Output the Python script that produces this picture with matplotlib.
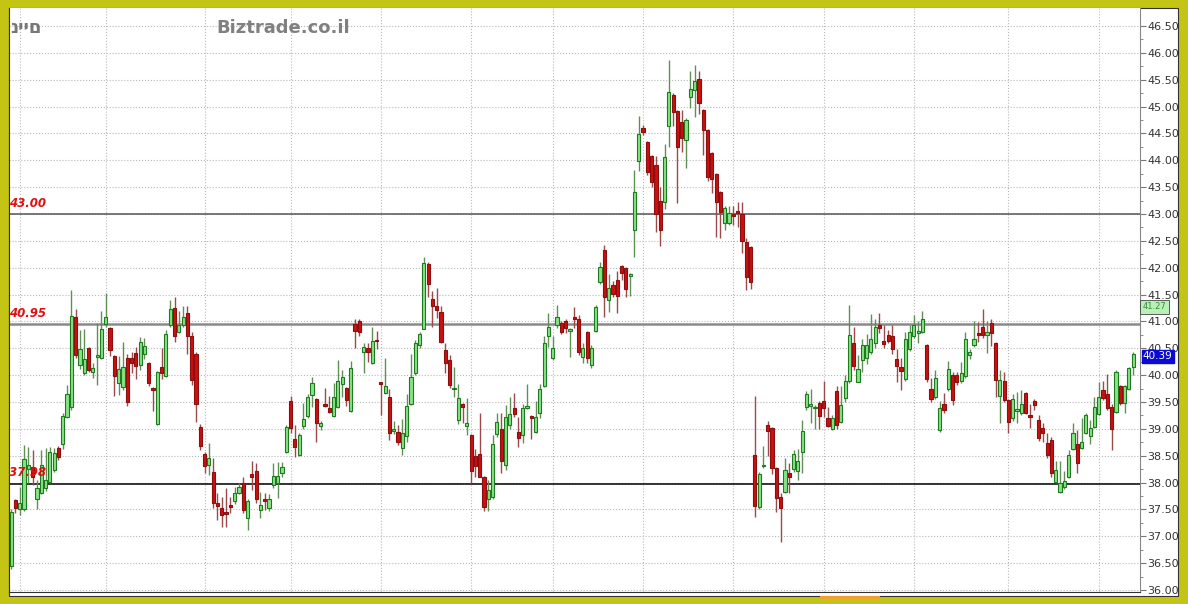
import numpy as np
import matplotlib
matplotlib.use('Agg')
import matplotlib.pyplot as plt
from matplotlib.patches import Rectangle

# daily candles (oldest first)
opens = [36.45, 37.67, 37.50, 37.50, 38.25, 38.29, 37.70, 37.81, 37.90, 38.02,
         38.23, 38.65, 38.72, 39.23, 39.40, 41.08, 40.19, 40.04, 40.50, 40.06,
         40.34, 40.32, 40.95, 40.88, 40.36, 39.85, 39.78, 40.32, 40.32, 40.42,
         40.19, 40.39, 40.23, 39.75, 39.09, 40.15, 39.98, 40.93, 41.25, 40.81,
         40.93, 41.15, 40.72, 40.39, 39.03, 38.53, 38.33, 38.20, 37.62, 37.52,
         37.44, 37.57, 37.66, 37.81, 37.99, 37.34, 38.16, 38.22, 37.49, 37.69,
         37.52, 37.95, 38.00, 38.18, 38.57, 39.52, 38.81, 38.51, 39.05, 39.24,
         39.63, 39.55, 39.05, 39.45, 39.39, 39.24, 39.41, 39.83, 39.76, 39.34,
         40.95, 41.00, 40.44, 40.50, 40.22, 40.65, 39.86, 39.67, 39.59, 38.96,
         38.95, 38.64, 38.86, 39.46, 40.04, 40.56, 40.86, 42.07, 41.42, 41.28,
         41.18, 40.47, 40.28, 39.74, 39.16, 39.46, 39.06, 38.88, 38.49, 38.53,
         38.11, 37.69, 37.73, 38.90, 38.99, 38.33, 39.07, 39.39, 38.95, 38.88,
         39.39, 39.23, 38.95, 39.30, 39.80, 40.72, 40.32, 40.93, 40.97, 41.00,
         40.83, 41.09, 41.04, 40.34, 40.81, 40.19, 40.83, 41.74, 42.33, 41.39,
         41.68, 41.77, 42.03, 41.99, 41.85, 42.71, 43.99, 44.61, 44.34, 44.08,
         43.91, 43.25, 43.23, 44.63, 45.22, 44.91, 44.72, 44.38, 45.18, 45.31,
         45.51, 44.93, 44.56, 44.13, 43.74, 43.41, 42.83, 42.84, 43.00, 43.06,
         43.00, 42.47, 42.39, 38.51, 37.54, 38.30, 39.07, 39.02, 38.28, 37.74,
         37.83, 38.18, 38.26, 38.22, 38.56, 39.41, 39.42, 39.38, 39.49, 39.52,
         39.21, 38.99, 39.71, 39.13, 39.57, 39.90, 40.59, 39.88, 40.28, 40.31,
         40.44, 40.59, 40.94, 40.64, 40.75, 40.73, 40.30, 40.15, 39.92, 40.48,
         40.73, 40.78, 40.81, 40.56, 39.75, 39.59, 38.98, 39.47, 39.74, 40.00,
         40.00, 39.90, 39.98, 40.38, 40.56, 40.78, 40.89, 40.75, 40.98, 40.60,
         39.61, 39.90, 39.54, 39.20, 39.34, 39.30, 39.66, 39.26, 39.52, 39.17,
         39.02, 38.73, 38.80, 38.02, 37.83, 37.92, 38.10, 38.62, 38.72, 38.64,
         38.92, 38.87, 39.04, 39.28, 39.72, 39.65, 39.40, 39.32, 39.80, 39.49,
         39.74, 40.16]
highs = [37.50, 37.70, 37.92, 38.70, 38.67, 38.60, 38.05, 38.60, 38.65, 38.67,
         38.65, 38.68, 39.30, 39.82, 41.58, 41.23, 40.84, 40.85, 40.52, 40.23,
         40.98, 41.20, 41.53, 40.90, 40.38, 40.36, 40.62, 40.40, 40.44, 40.53,
         40.71, 40.70, 40.25, 39.78, 40.08, 40.50, 40.84, 41.39, 41.45, 41.20,
         41.28, 41.28, 40.81, 40.44, 39.09, 38.57, 38.73, 38.46, 37.80, 37.74,
         37.90, 37.74, 37.92, 38.00, 38.10, 37.70, 38.41, 38.36, 37.83, 37.80,
         37.78, 38.37, 38.39, 38.38, 39.08, 39.61, 39.07, 38.93, 39.49, 39.65,
         39.97, 39.57, 39.15, 39.76, 39.62, 39.85, 40.28, 40.10, 39.78, 40.26,
         41.04, 41.05, 40.59, 40.59, 40.89, 40.83, 39.88, 40.31, 39.74, 39.15,
         39.07, 39.18, 39.64, 40.39, 40.65, 40.80, 42.20, 42.10, 41.57, 41.62,
         41.28, 40.59, 40.37, 40.16, 39.83, 39.48, 39.57, 38.90, 38.62, 39.29,
         38.12, 38.04, 38.88, 39.29, 39.29, 39.44, 39.60, 39.67, 39.22, 39.46,
         39.83, 39.25, 39.52, 39.83, 40.73, 41.15, 40.73, 41.30, 41.00, 41.04,
         40.87, 41.27, 41.12, 40.59, 40.82, 40.56, 41.30, 42.10, 42.42, 41.88,
         41.75, 41.93, 42.05, 42.02, 41.90, 43.82, 44.82, 44.66, 44.36, 44.10,
         44.08, 43.51, 44.30, 45.87, 45.25, 44.93, 44.94, 44.78, 45.67, 45.77,
         45.67, 44.95, 44.58, 44.15, 43.76, 43.43, 43.15, 43.15, 43.15, 43.23,
         43.23, 42.56, 42.40, 39.61, 38.20, 38.69, 39.15, 39.03, 38.29, 37.80,
         38.45, 38.36, 38.60, 38.62, 39.17, 39.71, 39.75, 39.45, 39.52, 39.90,
         39.40, 39.25, 39.80, 39.80, 40.00, 41.30, 40.90, 40.37, 40.68, 40.77,
         41.14, 41.05, 41.15, 40.94, 40.84, 40.94, 40.48, 40.31, 40.80, 40.94,
         41.12, 41.00, 41.20, 40.58, 39.94, 40.10, 39.52, 39.66, 40.26, 40.06,
         40.05, 40.25, 40.80, 40.48, 41.00, 40.99, 41.24, 41.00, 41.05, 40.62,
         40.10, 40.05, 39.56, 39.65, 39.69, 39.72, 39.68, 39.47, 39.56, 39.26,
         39.10, 38.92, 38.84, 38.40, 38.41, 38.22, 38.60, 39.10, 38.98, 39.21,
         39.30, 39.17, 39.60, 39.88, 39.90, 40.02, 39.47, 40.10, 39.82, 39.82,
         40.15, 40.44]
lows = [36.40, 37.44, 37.40, 37.48, 38.00, 37.95, 37.50, 37.78, 37.85, 38.00,
        38.20, 38.42, 38.62, 39.20, 39.35, 40.32, 40.12, 40.00, 40.05, 39.95,
        39.82, 40.30, 40.90, 40.36, 39.61, 39.63, 39.72, 39.43, 40.04, 39.93,
        40.10, 40.30, 39.80, 39.34, 39.07, 39.93, 39.96, 40.90, 40.62, 40.78,
        40.90, 40.39, 39.82, 39.13, 38.60, 38.18, 38.14, 37.52, 37.30, 37.18,
        37.18, 37.43, 37.60, 37.78, 37.43, 37.12, 37.86, 37.62, 37.34, 37.49,
        37.48, 37.90, 37.71, 38.10, 38.55, 38.93, 38.48, 38.49, 39.00, 39.20,
        39.41, 38.75, 38.98, 39.41, 39.30, 39.22, 39.39, 39.60, 39.42, 39.32,
        40.50, 40.72, 40.04, 40.25, 40.20, 40.49, 39.26, 39.65, 38.79, 38.90,
        38.70, 38.51, 38.76, 39.44, 40.00, 40.50, 40.85, 41.45, 40.90, 41.06,
        40.60, 40.04, 39.76, 39.60, 39.09, 39.10, 38.88, 38.00, 38.11, 38.11,
        37.47, 37.47, 37.70, 38.85, 38.18, 38.23, 39.00, 39.23, 38.67, 38.73,
        39.37, 38.81, 38.93, 39.20, 39.78, 40.53, 40.28, 40.88, 40.76, 40.78,
        40.34, 40.88, 40.37, 40.22, 40.22, 40.13, 40.80, 41.70, 41.09, 41.18,
        41.45, 41.16, 41.77, 41.45, 41.47, 42.20, 43.80, 44.48, 43.73, 43.50,
        42.67, 42.40, 43.10, 44.25, 44.63, 43.20, 44.16, 43.85, 44.97, 44.81,
        44.87, 44.10, 43.62, 43.40, 42.58, 42.55, 42.70, 42.80, 42.80, 42.76,
        42.27, 41.58, 41.60, 37.36, 37.50, 38.28, 38.49, 38.16, 37.46, 36.90,
        37.80, 37.80, 38.20, 38.05, 38.17, 39.35, 39.10, 39.00, 39.00, 39.23,
        39.03, 38.97, 39.00, 39.10, 39.50, 39.85, 40.10, 39.87, 40.06, 40.20,
        40.40, 40.50, 40.78, 40.50, 40.60, 40.40, 39.88, 39.72, 39.90, 40.45,
        40.70, 40.60, 40.78, 39.88, 39.50, 39.55, 38.95, 39.29, 39.70, 39.44,
        39.82, 39.85, 39.95, 40.30, 40.53, 40.62, 40.70, 40.41, 40.55, 39.60,
        39.10, 39.50, 38.93, 39.15, 39.10, 39.25, 39.27, 39.01, 39.36, 38.78,
        38.75, 38.45, 38.10, 38.00, 37.80, 37.88, 38.08, 38.60, 38.18, 38.62,
        38.90, 38.72, 39.02, 39.26, 39.54, 39.36, 38.60, 39.30, 39.45, 39.29,
        39.72, 40.00]
closes = [37.46, 37.52, 37.62, 38.44, 38.33, 38.10, 37.89, 38.33, 38.05, 38.56,
          38.55, 38.48, 39.24, 39.65, 41.10, 40.37, 40.48, 40.30, 40.10, 40.13,
          40.36, 40.86, 41.09, 40.47, 39.98, 40.12, 40.15, 39.50, 40.23, 40.17,
          40.62, 40.55, 39.86, 39.73, 40.06, 40.04, 40.77, 41.23, 40.73, 40.93,
          41.08, 40.72, 39.91, 39.47, 38.68, 38.30, 38.46, 37.62, 37.56, 37.40,
          37.42, 37.55, 37.81, 37.92, 37.49, 37.66, 38.10, 37.69, 37.58, 37.66,
          37.69, 38.12, 38.12, 38.29, 39.03, 39.02, 38.67, 38.88, 39.18, 39.59,
          39.85, 39.11, 39.11, 39.43, 39.32, 39.60, 39.90, 39.97, 39.54, 40.13,
          40.83, 40.81, 40.52, 40.44, 40.64, 40.63, 39.84, 39.80, 38.93, 39.00,
          38.76, 38.93, 39.42, 39.97, 40.59, 40.77, 42.09, 41.70, 41.29, 41.22,
          40.62, 40.22, 39.82, 39.77, 39.57, 39.40, 39.11, 38.22, 38.30, 38.11,
          37.55, 37.86, 38.72, 39.13, 38.40, 39.22, 39.28, 39.28, 38.83, 39.39,
          39.41, 39.21, 39.22, 39.74, 40.60, 40.90, 40.50, 41.08, 40.81, 40.87,
          40.85, 41.04, 40.44, 40.51, 40.31, 40.51, 41.26, 42.02, 41.45, 41.63,
          41.52, 41.47, 41.91, 41.60, 41.87, 43.41, 44.49, 44.53, 43.79, 43.60,
          43.00, 42.70, 44.06, 45.28, 44.89, 44.25, 44.41, 44.75, 45.32, 45.48,
          45.06, 44.56, 43.68, 43.66, 43.23, 43.04, 43.12, 43.02, 42.96, 43.01,
          42.50, 41.83, 41.74, 37.56, 38.16, 38.32, 38.96, 38.28, 37.71, 37.52,
          38.24, 38.10, 38.54, 38.40, 38.96, 39.65, 39.46, 39.40, 39.24, 39.38,
          39.05, 39.21, 39.07, 39.44, 39.90, 40.75, 40.17, 40.11, 40.56, 40.56,
          40.67, 40.90, 40.87, 40.58, 40.64, 40.48, 40.17, 40.08, 40.68, 40.81,
          40.93, 40.83, 41.04, 39.92, 39.55, 39.94, 39.38, 39.36, 40.11, 39.54,
          39.88, 40.04, 40.68, 40.44, 40.68, 40.75, 40.75, 40.81, 40.78, 39.91,
          39.91, 39.54, 39.12, 39.55, 39.36, 39.47, 39.30, 39.23, 39.44, 38.83,
          38.93, 38.51, 38.17, 38.23, 38.00, 38.03, 38.51, 38.92, 38.37, 38.76,
          39.26, 39.02, 39.40, 39.59, 39.57, 39.38, 38.99, 40.06, 39.49, 39.80,
          40.13, 40.39]

# candle index where each month starts (vertical grid)
month_starts = [2, 22, 45, 65, 86, 107, 126, 147, 168, 189, 210, 232, 253]

levels = [43.00, 40.95, 37.98]
level_labels = ['43.00', '40.95', '37.98']
level_colors = ['#555555', '#8a8a8a', '#000000']
level_widths = [1.1, 1.8, 1.1]

last_price = '40.39'
box_price = '41.27'

W, H = 1188, 604
def px(x0, y0, x1, y1):
    return [x0 / W, 1 - y1 / H, (x1 - x0) / W, (y1 - y0) / H]

fig = plt.figure(figsize=(W / 100, H / 100), dpi=100, facecolor='#c4c414')
fig.patches.append(Rectangle((9 / W, 1 - 596 / H), (1178 - 9) / W, (596 - 8) / H,
                             transform=fig.transFigure, facecolor='white',
                             edgecolor='#333333', lw=0.8, zorder=-10))
# small orange marker in the bottom border
fig.patches.append(Rectangle((820 / W, 1 - 599 / H), 60 / W, 3 / H,
                             transform=fig.transFigure, facecolor='#f0a030',
                             edgecolor='none', zorder=-5))

ax = fig.add_axes(px(9, 8, 1140, 592))
ax.set_facecolor('white')
ax.set_zorder(1)

o = np.array(opens); h = np.array(highs); l = np.array(lows); c = np.array(closes)
x = np.arange(len(o))
up = c >= o

ax.vlines(x[up], l[up], h[up], color='#5e8f55', lw=1, zorder=3)
ax.vlines(x[~up], l[~up], h[~up], color='#9a4a4a', lw=1, zorder=3)

body_lo = np.minimum(o, c)
body_h = np.maximum(np.abs(c - o), 0.03)
ax.bar(x[up], body_h[up], bottom=body_lo[up], width=0.74, color='#86e486',
       edgecolor='#1f7a1f', lw=0.8, zorder=4)
ax.bar(x[~up], body_h[~up], bottom=body_lo[~up], width=0.74, color='#cc1010',
       edgecolor='#8a0f0f', lw=0.8, zorder=4)

for lev, lab, col, lw in zip(levels, level_labels, level_colors, level_widths):
    ax.axhline(lev, color=col, lw=lw, zorder=2)
    ax.text(0.0, lev + 0.08, lab, color='#e01010', fontsize=8.5, fontweight='bold',
            fontstyle='italic', transform=ax.get_yaxis_transform(), va='bottom', zorder=5)

ax.set_xlim(-0.5, 262.6)
ax.set_ylim(35.963, 46.835)
ax.set_xticks(month_starts)
ax.tick_params(axis='x', length=0, labelbottom=False)
ax.grid(True, axis='x', ls=':', color='#b8b8b8', lw=0.8, zorder=1)

ax.yaxis.tick_right()
ax.set_yticks(np.arange(36.0, 46.51, 0.5))
ax.set_yticks(np.arange(36.0, 46.6, 0.25), minor=True)
ax.yaxis.set_major_formatter(matplotlib.ticker.FormatStrFormatter('%.2f'))
ax.tick_params(axis='y', which='major', length=4, color='#777777', labelsize=8,
               labelcolor='#333333', pad=1)
ax.tick_params(axis='y', which='minor', length=2, color='#777777')
ax.grid(True, axis='y', which='major', ls=':', color='#b8b8b8', lw=0.8, zorder=1)

ax.spines['top'].set_visible(False)
ax.spines['left'].set_color('#333333')
ax.spines['right'].set_color('#888888')
ax.spines['bottom'].set_color('#333333')

ax.annotate(last_price, xy=(1.0, float(last_price)), xycoords=('axes fraction', 'data'),
            xytext=(2, -1.5), textcoords='offset points', va='center', ha='left',
            fontsize=7.5, color='white', zorder=6,
            bbox=dict(boxstyle='square,pad=0.12', fc='#0a0ad0', ec='#0a0ad0'))
ax.annotate(box_price, xy=(1.0, float(box_price)), xycoords=('axes fraction', 'data'),
            xytext=(2, 0), textcoords='offset points', va='center', ha='left',
            fontsize=6, color='#3a8a3a', zorder=6,
            bbox=dict(boxstyle='square,pad=0.3', fc='#b8f0b8', ec='#444444', lw=0.6))

fig.text(10 / W, 1 - 28 / H, 'ניים', fontsize=13, fontweight='bold', color='#777777',
         va='center', ha='left')
fig.text(216 / W, 1 - 28 / H, 'Biztrade.co.il', fontsize=13, fontweight='bold',
         color='#808080', va='center', ha='left')

fig.savefig('out.png', dpi=100, facecolor=fig.get_facecolor())
